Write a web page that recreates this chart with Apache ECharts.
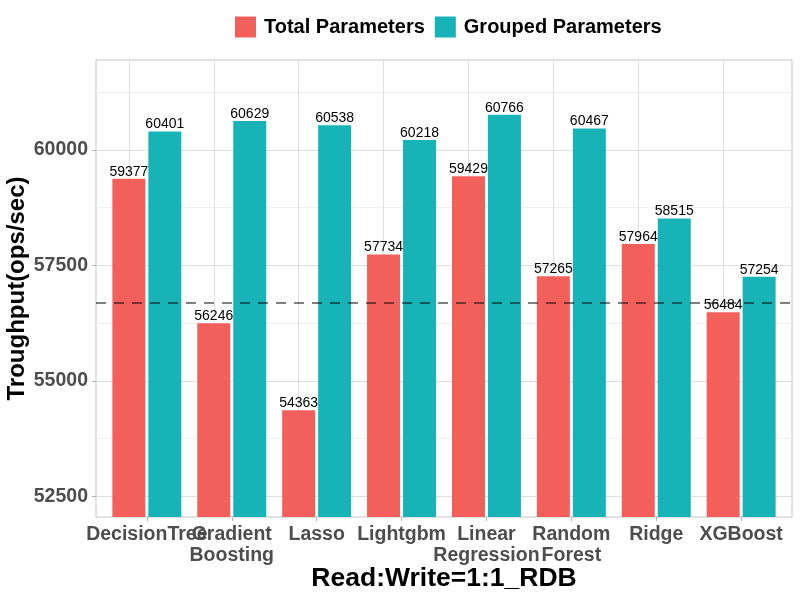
<!DOCTYPE html>
<html>
<head>
<meta charset="utf-8">
<script src="https://cdn.jsdelivr.net/npm/echarts@6/dist/echarts.min.js"></script>
<style>
html,body{margin:0;padding:0;background:#fff;}
#chart{width:800px;height:600px;}
</style>
</head>
<body>
<div id="chart"></div>
<script>
const categories = ['DecisionTree', 'Gradient\nBoosting', 'Lasso', 'Lightgbm', 'Linear\nRegression', 'Random\nForest', 'Ridge', 'XGBoost'];
const totalParams = [59377, 56246, 54363, 57734, 59429, 57265, 57964, 56484];
const groupedParams = [60401, 60629, 60538, 60218, 60766, 60467, 58515, 57254];
const yMajorTicks = [52500, 55000, 57500, 60000];
const yMinorTicks = [53750, 56250, 58750, 61250];
const yMin = 52050;
const yMax = 61950;
const hlineValue = 56700;

const FONT = 'Liberation Sans, Arial, Helvetica, sans-serif';
const RED = '#F35F5B';
const TEAL = '#17B3B7';

const chart = echarts.init(document.getElementById('chart'), null, {renderer: 'canvas'});

const option = {
  animation: false,
  backgroundColor: '#ffffff',
  textStyle: {fontFamily: FONT},
  legend: {
    data: ['Total Parameters', 'Grouped Parameters'],
    left: 230,
    top: 11.5,
    icon: 'rect',
    itemWidth: 21,
    itemHeight: 21,
    itemGap: 10,
    textStyle: {fontFamily: FONT, fontSize: 20, fontWeight: 'bold', color: '#000', padding: [0, 0, 0, 3]}
  },
  grid: [
    {left: 96, right: 8, top: 60, bottom: 83, show: true, borderColor: '#c4c4c4', borderWidth: 1, backgroundColor: 'transparent', outerBoundsMode: 'none', containLabel: false},
    {left: 104.4, right: 16.4, top: 60, bottom: 83, show: false, outerBoundsMode: 'none', containLabel: false}
  ],
  xAxis: [
    {
      gridIndex: 0, type: 'value', min: 0, max: 1,
      show: false
    },
    {
      gridIndex: 1, type: 'category', data: categories,
      axisLine: {show: false},
      axisTick: {show: true, alignWithLabel: true, length: 4, lineStyle: {color: '#b3b3b3', width: 1}},
      axisLabel: {interval: 0, margin: 7, fontFamily: FONT, fontSize: 19.5, fontWeight: 'bold', color: '#4d4d4d', lineHeight: 21},
      splitLine: {show: false},
      name: 'Read:Write=1:1_RDB',
      nameLocation: 'middle',
      nameGap: 49,
      nameMoveOverlap: false,
      nameTextStyle: {fontFamily: FONT, fontSize: 26.5, fontWeight: 'bold', color: '#000', lineHeight: 26}
    }
  ],
  yAxis: [
    {
      gridIndex: 0, type: 'value', min: yMin, max: yMax,
      axisLine: {show: false},
      axisTick: {show: true, length: 4, customValues: yMajorTicks, lineStyle: {color: '#b3b3b3', width: 1}},
      axisLabel: {customValues: yMajorTicks, margin: 8, fontFamily: FONT, fontSize: 19.5, fontWeight: 'bold', color: '#4d4d4d', formatter: v => String(v)},
      splitLine: {show: true, lineStyle: {color: '#dedede', width: 1}},
      name: 'Troughput(ops/sec)',
      nameLocation: 'middle',
      nameGap: 67,
      nameMoveOverlap: false,
      nameTextStyle: {fontFamily: FONT, fontSize: 24, fontWeight: 'bold', color: '#000'}
    },
    {
      gridIndex: 0, type: 'value', min: yMin, max: yMax, position: 'left',
      axisLine: {show: false},
      axisTick: {show: false, customValues: yMinorTicks},
      axisLabel: {show: false, customValues: yMinorTicks},
      splitLine: {show: true, lineStyle: {color: '#efefef', width: 1}}
    },
    {
      gridIndex: 1, type: 'value', min: yMin, max: yMax,
      show: false,
      splitLine: {show: false}
    }
  ],
  series: [
    {
      name: 'hline',
      type: 'line',
      xAxisIndex: 0,
      yAxisIndex: 0,
      data: [],
      silent: true,
      markLine: {
        silent: true,
        symbol: ['none', 'none'],
        label: {show: false},
        lineStyle: {type: [10, 8], color: 'rgba(0,0,0,0.5)', width: 2},
        data: [{yAxis: hlineValue}]
      }
    },
    {
      name: 'Total Parameters',
      type: 'bar',
      xAxisIndex: 1,
      yAxisIndex: 2,
      data: totalParams,
      barWidth: 33,
      barGap: '9%',
      itemStyle: {color: RED},
      label: {show: true, position: 'top', distance: 0, fontFamily: FONT, fontSize: 14, color: '#000'},
      markLine: {
        silent: true,
        z: 1,
        symbol: ['none', 'none'],
        label: {show: false},
        lineStyle: {type: 'solid', color: '#dedede', width: 1},
        data: categories.map(c => ({xAxis: c}))
      }
    },
    {
      name: 'Grouped Parameters',
      type: 'bar',
      xAxisIndex: 1,
      yAxisIndex: 2,
      data: groupedParams,
      barWidth: 33,
      barGap: '9%',
      itemStyle: {color: TEAL},
      label: {show: true, position: 'top', distance: 0, fontFamily: FONT, fontSize: 14, color: '#000'}
    }
  ]
};

chart.setOption(option);
</script>
</body>
</html>
